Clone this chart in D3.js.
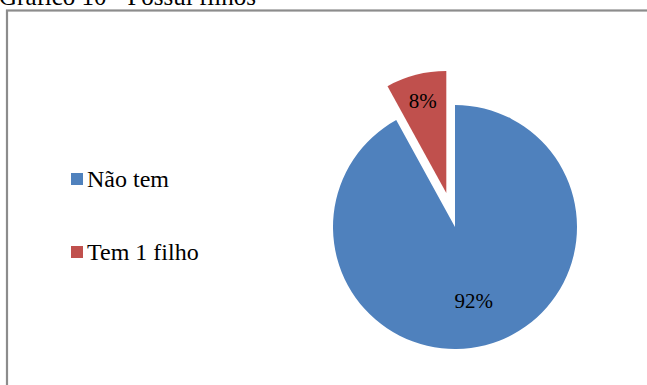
<!DOCTYPE html>
<html>
<head>
<meta charset="utf-8">
<script src="https://cdn.jsdelivr.net/npm/d3@7"></script>
<style>
  body { margin: 0; background: #fff; }
  svg { display: block; }
</style>
</head>
<body>
<div id="chart"></div>
<script>
const categories = ["Não tem", "Tem 1 filho"];
const values = [92, 8];
const colors = ["#4f81bd", "#c0504d"];

const width = 647,
  height = 385;

const svg = d3
  .select("#chart")
  .append("svg")
  .attr("width", width)
  .attr("height", height)
  .style("font-family", "'Liberation Serif', 'Times New Roman', serif");

// title, mostly cut off at the top
svg
  .append("text")
  .attr("x", -1)
  .attr("y", 5)
  .attr("font-size", 25)
  .attr("fill", "#000")
  .text("Gráfico 10 - Possui filhos");

// chart frame (runs off the right and bottom edges)
svg
  .append("rect")
  .attr("x", 7)
  .attr("y", 10.5)
  .attr("width", 700)
  .attr("height", 400)
  .attr("fill", "none")
  .attr("stroke", "#8c8c8c")
  .attr("stroke-width", 2.2);

const cx = 455,
  cy = 227,
  r = 122,
  explode = 35;

const pie = d3.pie().sort(null).value((d) => d)(values);
const arc = d3.arc().innerRadius(0).outerRadius(r);
const labelArc = d3.arc().innerRadius(r * 0.62).outerRadius(r * 0.62);

const g = svg.append("g").attr("transform", `translate(${cx},${cy})`);

const slices = g
  .selectAll("g.slice")
  .data(pie)
  .enter()
  .append("g")
  .attr("class", "slice")
  .attr("transform", (d, i) => {
    if (i !== 1) return null;
    const a = (d.startAngle + d.endAngle) / 2;
    return `translate(${Math.sin(a) * explode},${-Math.cos(a) * explode})`;
  });

slices
  .append("path")
  .attr("d", arc)
  .attr("fill", (d, i) => colors[i]);

slices
  .append("text")
  .attr("transform", (d, i) => {
    const [x, y] = i === 1
      ? d3.arc().innerRadius(r * 0.78).outerRadius(r * 0.78).centroid(d)
      : labelArc.centroid(d);
    return `translate(${x},${y})`;
  })
  .attr("text-anchor", "middle")
  .attr("dy", "0.35em")
  .attr("font-size", 21)
  .attr("fill", "#000")
  .text((d, i) => values[i] + "%");

// legend
const legend = svg
  .selectAll("g.legend")
  .data(categories)
  .enter()
  .append("g")
  .attr("class", "legend")
  .attr("transform", (d, i) => `translate(71,${173 + i * 73})`);

legend
  .append("rect")
  .attr("width", 12)
  .attr("height", 12)
  .attr("fill", (d, i) => colors[i]);

legend
  .append("text")
  .attr("x", 16)
  .attr("y", 14)
  .attr("font-size", 24)
  .attr("fill", "#000")
  .text((d) => d);
</script>
</body>
</html>
